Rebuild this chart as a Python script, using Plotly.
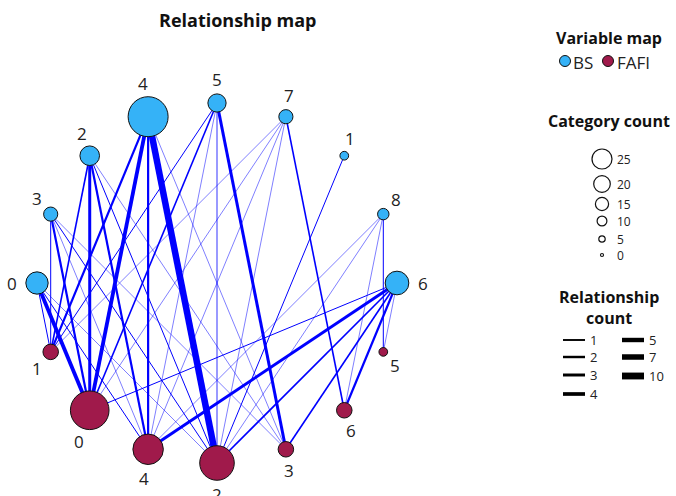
import math
import plotly.graph_objects as go

# ---- data -------------------------------------------------------------
bs_labels = ["0", "3", "2", "4", "5", "7", "1", "8", "6"]
bs_counts = [12, 6, 10, 25, 9, 6, 2, 4, 13]
fafi_labels = ["1", "0", "4", "2", "3", "6", "5"]
fafi_counts = [7, 24, 18, 21, 7, 7, 2]

# relationships: BS label, FAFI label, count, faded
edge_bs = ["0", "0", "0", "0", "3", "3", "3", "3", "3", "2", "2", "2", "2", "2",
           "4", "4", "4", "4", "4", "5", "5", "5", "5", "5", "7", "7", "7", "7", "7",
           "1", "8", "8", "8", "8", "6", "6", "6", "6", "6", "6"]
edge_fafi = ["0", "1", "4", "2", "1", "0", "4", "2", "3", "0", "1", "4", "2", "3",
             "4", "2", "0", "1", "3", "2", "3", "0", "1", "4", "6", "0", "4", "2", "1",
             "2", "5", "6", "4", "2", "4", "6", "3", "2", "5", "0"]
edge_count = [5, 1, 1, 1, 1, 3, 1, 1, 1, 4, 2, 3, 1, 1,
              3, 10, 5, 3, 1, 2, 4, 2, 1, 1, 2, 1, 1, 1, 1,
              1, 1, 1, 1, 1, 4, 3, 2, 2, 1, 1]
edge_faded = [0, 0, 0, 1, 0, 0, 1, 0, 1, 0, 0, 0, 0, 1,
              0, 0, 0, 0, 1, 1, 0, 0, 0, 1, 0, 1, 1, 1, 1,
              0, 0, 1, 1, 1, 0, 0, 0, 0, 1, 0]

size_legend_counts = [25, 20, 15, 10, 5, 0]
width_legend_counts = [1, 2, 3, 4, 5, 7, 10]

# ---- styling ----------------------------------------------------------
BS_COLOR = "#35B2F7"
FAFI_COLOR = "#A01A4B"
EDGE = "rgb(0,0,255)"
EDGE_FADED = "rgba(0,0,255,0.5)"
FONT = "Open Sans"
WIDTHS = {1: 1.0, 2: 1.6, 3: 2.2, 4: 3.0, 5: 3.8, 7: 5.0, 10: 6.5}

W, H = 676, 496
CX, CY, R = 217, 283, 180
N_SLOTS = 16


def node_size(c):
    return 6 + 1.36 * c


def slot_pos(k):
    a = math.radians(180 - k * 360 / N_SLOTS)
    return CX + R * math.cos(a), CY - R * math.sin(a), a


def label(x, y, text, size, anchor="center", bold=False):
    fig.add_annotation(x=x, y=y, text=f"<b>{text}</b>" if bold else text,
                       showarrow=False, xanchor=anchor, yanchor="middle", borderpad=0,
                       font=dict(family=FONT, size=size, color="#111" if bold else "#222"))


pos = {}
for i, lab in enumerate(bs_labels):
    pos[("BS", lab)] = slot_pos(i)
for i, lab in enumerate(fafi_labels):
    pos[("FAFI", lab)] = slot_pos(N_SLOTS - 1 - i)

fig = go.Figure()

# edges, thin first so the heavy ones sit on top
order = sorted(range(len(edge_bs)), key=lambda j: (edge_count[j], -edge_faded[j]))
for j in order:
    x0, y0, _ = pos[("BS", edge_bs[j])]
    x1, y1, _ = pos[("FAFI", edge_fafi[j])]
    fig.add_trace(go.Scatter(
        x=[x0, x1], y=[y0, y1], mode="lines",
        line=dict(color=EDGE_FADED if edge_faded[j] else EDGE, width=WIDTHS[edge_count[j]]),
        hoverinfo="skip", showlegend=False))


def add_nodes(group, labels, counts, color):
    xs, ys, sz = [], [], []
    for lab, c in zip(labels, counts):
        x, y, a = pos[(group, lab)]
        xs.append(x); ys.append(y); sz.append(node_size(c))
        # label placed outside the node, pushed mostly vertically
        dx, dy = 0.35 * math.cos(a), -math.sin(a)
        n = math.hypot(dx, dy)
        off = node_size(c) / 2 + 14
        label(x + dx / n * off, y + dy / n * off, lab, 17)
    fig.add_trace(go.Scatter(
        x=xs, y=ys, mode="markers",
        marker=dict(size=sz, color=color, opacity=1, line=dict(color="#111", width=1)),
        showlegend=False, hoverinfo="skip"))


add_nodes("BS", bs_labels, bs_counts, BS_COLOR)
add_nodes("FAFI", fafi_labels, fafi_counts, FAFI_COLOR)

# ---- title ------------------------------------------------------------
label(237, 20, "Relationship map", 18, bold=True)

# ---- legend: variable map -----------------------------------------------
LX = 609
label(LX, 38, "Variable map", 16, bold=True)
fig.add_trace(go.Scatter(x=[565, 608], y=[61, 61], mode="markers",
                         marker=dict(size=11, color=[BS_COLOR, FAFI_COLOR], opacity=1,
                                     line=dict(color="#111", width=1)),
                         showlegend=False, hoverinfo="skip"))
label(572, 62, "BS", 17, anchor="left")
label(616, 62, "FAFI", 17, anchor="left")

# ---- legend: category count -----------------------------------------------
label(LX, 121, "Category count", 16, bold=True)
size_rows = [159, 184, 204, 221, 239, 255]
fig.add_trace(go.Scatter(
    x=[602] * len(size_legend_counts), y=size_rows, mode="markers",
    marker=dict(size=[node_size(c) * 0.5 for c in size_legend_counts], opacity=1,
                color="white", line=dict(color="#111", width=1.2)),
    showlegend=False, hoverinfo="skip"))
for c, y in zip(size_legend_counts, size_rows):
    label(616, y, str(c), 12, anchor="left")

# ---- legend: relationship count -------------------------------------------
fig.add_annotation(x=LX, y=307, text="<b>Relationship<br>count</b>", showarrow=False,
                   xanchor="center", yanchor="middle", borderpad=0,
                   font=dict(family=FONT, size=16, color="#111"))
line_slots = [(563, 340), (563, 357), (563, 375), (563, 394),
              (622, 340), (622, 357), (622, 376)]
for c, (x0, y) in zip(width_legend_counts, line_slots):
    fig.add_trace(go.Scatter(x=[x0, x0 + 22], y=[y, y], mode="lines",
                             line=dict(color="#000", width=WIDTHS[c] * 0.9 + 1),
                             showlegend=False, hoverinfo="skip"))
    label(x0 + 26, y, str(c), 13, anchor="left")

fig.update_layout(
    width=W, height=H, margin=dict(l=0, r=0, t=0, b=0),
    paper_bgcolor="white", plot_bgcolor="white",
    xaxis=dict(range=[0, W], visible=False, fixedrange=True),
    yaxis=dict(range=[H, 0], visible=False, fixedrange=True),
)

fig.write_html("out.html")
